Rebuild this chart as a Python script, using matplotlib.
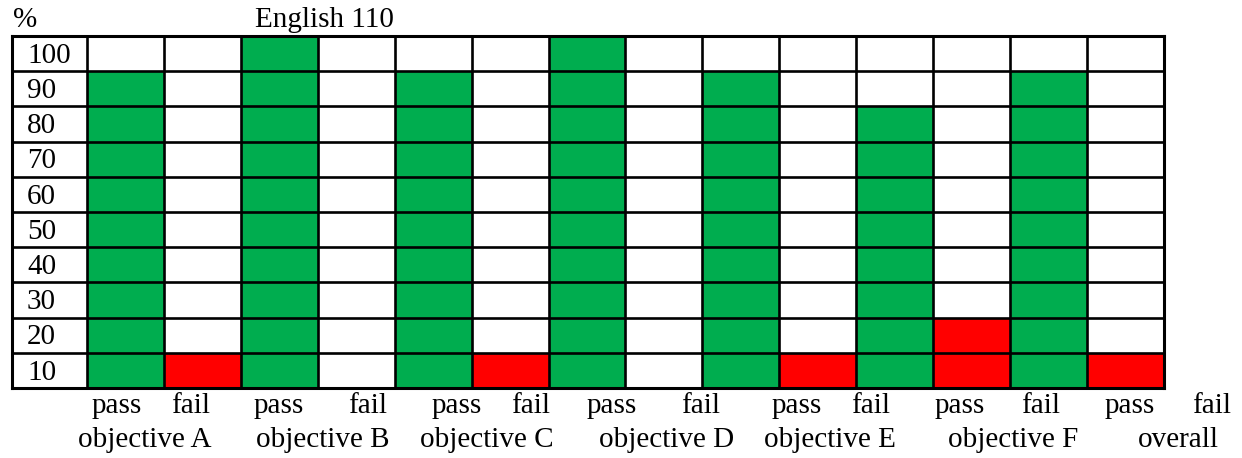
import matplotlib

matplotlib.use("Agg")
import matplotlib.pyplot as plt
import numpy as np

W, H, DPI = 1242, 458, 100

title = "English 110"
unit_label = "%"
objectives = ["objective A", "objective B", "objective C", "objective D",
              "objective E", "objective F", "overall"]
pass_pct = [90, 100, 90, 100, 90, 80, 90]
fail_pct = [10, 0, 10, 0, 10, 20, 10]
row_labels = [10, 20, 30, 40, 50, 60, 70, 80, 90, 100]

GREEN = "#00AD4F"
RED = "#FF0000"
FONT = "Liberation Serif"
FS = 21

# pixel layout of the free-floating captions under the grid
word_x = [117, 191, 279, 368, 457, 531, 612, 701, 797, 871, 960, 1041, 1130, 1212]
objective_x = [145, 323, 487, 667, 830, 1013, 1178]

plt.rcParams["font.family"] = [FONT, "DejaVu Serif"]

fig = plt.figure(figsize=(W / DPI, H / DPI), dpi=DPI)
fig.patch.set_facecolor("white")

grid_left, grid_right, grid_top, grid_bottom = 12, 1164, 36, 388
ax = fig.add_axes([grid_left / W, 1 - grid_bottom / H,
                   (grid_right - grid_left) / W, (grid_bottom - grid_top) / H])

ncols = 2 * len(objectives)
label_w = 75 / 77
ax.set_xlim(-label_w, ncols)
ax.set_ylim(0, 100)

pass_cols = np.arange(0, ncols, 2)
fail_cols = np.arange(1, ncols, 2)
ax.bar(pass_cols, pass_pct, width=1, align="edge", color=GREEN, linewidth=0, zorder=1)
ax.bar(fail_cols, fail_pct, width=1, align="edge", color=RED, linewidth=0, zorder=1)

lw = 1.9
ax.hlines(row_labels[:-1], -label_w, ncols, colors="black", linewidth=lw, zorder=3)
ax.vlines(np.arange(0, ncols), 0, 100, colors="black", linewidth=lw, zorder=3)
for sp in ax.spines.values():
    sp.set_linewidth(lw + 0.3)
    sp.set_zorder(4)
ax.set_xticks([])
ax.set_yticks([])

for v in row_labels:
    ax.text(-label_w + 15 / 77, v - 10 + 2.4, str(v), fontsize=FS,
            ha="left", va="baseline")


def px_text(x, y, s, ha="center"):
    fig.text(x / W, 1 - y / H, s, fontsize=FS, ha=ha, va="baseline")


px_text(13, 27, unit_label, ha="left")
px_text(255, 27, title, ha="left")

words = ["pass", "fail"] * len(objectives)
for x, w in zip(word_x, words):
    px_text(x, 413, w)
for x, name in zip(objective_x, objectives):
    px_text(x, 447, name)

fig.savefig("out.png", dpi=DPI, facecolor="white")
